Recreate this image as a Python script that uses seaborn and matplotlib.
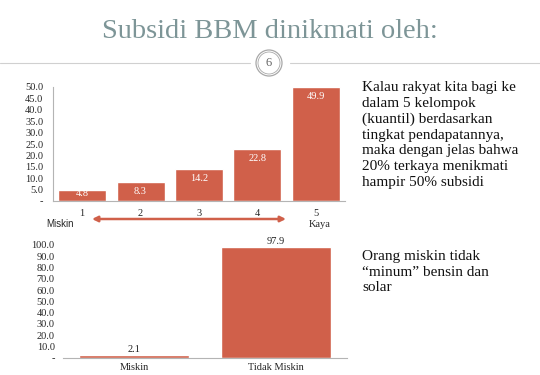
import pandas as pd
import seaborn as sns
import matplotlib.pyplot as plt
from matplotlib.patches import Circle

# data
kuantil = ['1', '2', '3', '4', '5']
subsidi_kuantil = [4.8, 8.3, 14.2, 22.8, 49.9]
kelompok = ['Miskin', 'Tidak Miskin']
subsidi_kelompok = [2.1, 97.9]
ticks_atas = [0, 5, 10, 15, 20, 25, 30, 35, 40, 45, 50]
ticks_bawah = [0, 10, 20, 30, 40, 50, 60, 70, 80, 90, 100]

df1 = pd.DataFrame({'kuantil': kuantil, 'subsidi': subsidi_kuantil})
df2 = pd.DataFrame({'kelompok': kelompok, 'subsidi': subsidi_kelompok})

sns.set_style('white')
plt.rcParams['font.family'] = ['Liberation Serif', 'DejaVu Serif']

merah = '#d0604a'
abu = '#b4b4b4'

fig = plt.figure(figsize=(5.4, 3.75), dpi=100)

# judul
fig.text(0.5, 0.915, 'Subsidi BBM dinikmati oleh:', ha='center', va='center',
         fontsize=20.5, color='#7d9597')
fig.add_artist(plt.Line2D([0, 250 / 540], [0.832, 0.832], color='#d0d0d0', lw=0.8))
fig.add_artist(plt.Line2D([290 / 540, 1], [0.832, 0.832], color='#d0d0d0', lw=0.8))
ax_c = fig.add_axes([0, 0, 1, 1], facecolor='none')
ax_c.set_xlim(0, 540)
ax_c.set_ylim(375, 0)
ax_c.axis('off')
ax_c.add_patch(Circle((269, 63), 13, fill=False, ec='#a8a8a8', lw=0.9))
ax_c.add_patch(Circle((269, 63), 11, fill=False, ec='#a8a8a8', lw=0.6))
ax_c.text(269, 63, '6', ha='center', va='center', fontsize=9, color='#666666')

# grafik atas
ax1 = fig.add_axes([0.098, 0.464, 0.541, 0.304])
sns.barplot(x='kuantil', y='subsidi', data=df1, color=merah, saturation=1,
            width=0.82, ax=ax1)
ax1.set_ylim(0, 50)
ax1.set_xlim(-0.5, 4.5)
ax1.set_yticks(ticks_atas)
ax1.set_yticklabels(['-'] + ['%.1f' % t for t in ticks_atas[1:]])
for p in ax1.patches:
    h = p.get_height()
    ax1.text(p.get_x() + p.get_width() / 2, max(h - 4.2, h - 1.4 if h < 6 else 0),
             '%.1f' % h, ha='center', va='center', color='white', fontsize=7.5)
ax1.set_xlabel('')
ax1.set_ylabel('')
ax1.tick_params(axis='y', labelsize=7.5, length=2, color=abu, pad=5)
ax1.tick_params(axis='x', labelsize=7.5, length=0, pad=6)
ax1.set_xticks([-0.5, 0.5, 1.5, 2.5, 3.5, 4.5], minor=True)
ax1.tick_params(axis='x', which='minor', length=3, color=abu, direction='out')
for s in ['top', 'right']:
    ax1.spines[s].set_visible(False)
for s in ['left', 'bottom']:
    ax1.spines[s].set_color(abu)
    ax1.spines[s].set_linewidth(0.8)

fig.text(60 / 540, 1 - 224 / 375, 'Miskin', ha='center', va='center', fontsize=7,
         family=['Liberation Sans', 'DejaVu Sans'])
fig.text(320 / 540, 1 - 224 / 375, 'Kaya', ha='center', va='center', fontsize=7.5)
ax_c.annotate('', xy=(286, 219), xytext=(92, 219),
              arrowprops=dict(arrowstyle='<|-|>', color=merah, lw=1.8,
                              mutation_scale=8, shrinkA=0, shrinkB=0))

# grafik bawah
ax2 = fig.add_axes([63 / 540, 0.046, 284 / 540, 0.301])
sns.barplot(x='kelompok', y='subsidi', data=df2, color=merah, saturation=1,
            width=0.78, ax=ax2)
ax2.set_ylim(0, 100)
ax2.set_xlim(-0.5, 1.5)
ax2.set_yticks(ticks_bawah)
ax2.set_yticklabels(['-'] + ['%.1f' % t for t in ticks_bawah[1:]])
ax2.bar_label(ax2.containers[0], fmt='%.1f', padding=1, color='#222222', fontsize=7.5)
ax2.set_xlabel('')
ax2.set_ylabel('')
ax2.tick_params(axis='y', labelsize=7.5, length=2, color='#d8d8d8', pad=4)
ax2.tick_params(axis='x', labelsize=7.5, length=0, pad=4)
ax2.set_xticks([-0.5, 0.5, 1.5], minor=True)
ax2.tick_params(axis='x', which='minor', length=3, color=abu, direction='out')
for s in ['top', 'right', 'left']:
    ax2.spines[s].set_visible(False)
ax2.spines['bottom'].set_color(abu)
ax2.spines['bottom'].set_linewidth(0.8)

# teks kanan
fig.text(362 / 540, 1 - 81 / 375,
         'Kalau rakyat kita bagi ke\ndalam 5 kelompok\n(kuantil) berdasarkan\n'
         'tingkat pendapatannya,\nmaka dengan jelas bahwa\n20% terkaya menikmati\n'
         'hampir 50% subsidi',
         ha='left', va='top', fontsize=11, linespacing=1.27, color='#111111')
fig.text(362 / 540, 1 - 250 / 375,
         'Orang miskin tidak\n\u201cminum\u201d bensin dan\nsolar',
         ha='left', va='top', fontsize=11, linespacing=1.27, color='#111111')

fig.savefig('out.png', dpi=100)
